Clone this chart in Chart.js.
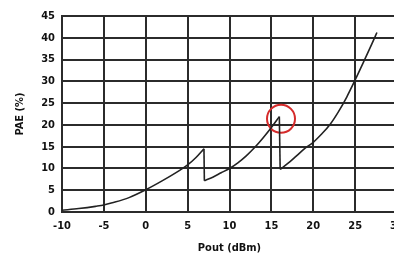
<!DOCTYPE html>
<html>
<head>
<meta charset="utf-8">
<script src="https://cdn.jsdelivr.net/npm/chart.js@4.4.0/dist/chart.umd.min.js"></script>
<style>
  html, body { margin: 0; padding: 0; background: #fff; overflow: hidden; }
  #wrap { width: 420px; height: 258px; }
</style>
</head>
<body>
<div id="wrap"><canvas id="paeChart" width="420" height="258"></canvas></div>
<script>
// Pout (dBm) vs PAE (%)
const poutDbm = [-10, -8, -6, -5, -4, -2, 0, 2, 4, 5, 6, 6.95,
                 7.0, 8, 9, 10, 11, 12, 13, 14, 15, 15.95,
                 16.05, 17, 18, 19, 20, 21, 22, 23, 24, 25, 26, 27, 27.6];
const paePct = [0.4, 0.8, 1.3, 1.6, 2.1, 3.3, 5.1, 7.2, 9.5, 10.8, 12.5, 14.5,
                7.2, 8.0, 9.0, 10.0, 11.3, 12.9, 14.8, 17.0, 19.4, 21.9,
                9.8, 11.2, 12.9, 14.6, 16.0, 17.9, 20.1, 23.0, 26.4, 30.3, 34.4, 38.6, 41.2];
// highlighted peak
const markerPout = [16.15];
const markerPae = [21.4];

const xTicks = [-10, -5, 0, 5, 10, 15, 20, 25, 30];
const yTicks = [0, 5, 10, 15, 20, 25, 30, 35, 40, 45];

const font = { family: "'DejaVu Sans Condensed', 'DejaVu Sans', sans-serif", weight: 'bold', size: 11 };
const gridColor = '#2b2b2b';
const lineColor = '#222';

// split the curve where PAE drops: smooth rising pieces plus straight drops
const points = poutDbm.map((x, i) => ({ x: x, y: paePct[i] }));
const pieces = [[points[0]]];
const drops = [];
for (let i = 1; i < points.length; i++) {
    if (points[i].y < points[i - 1].y) {
        drops.push([points[i - 1], points[i]]);
        pieces.push([points[i]]);
    } else {
        pieces[pieces.length - 1].push(points[i]);
    }
}

const datasets = [];
pieces.forEach(p => datasets.push({
    data: p, showLine: true, borderColor: lineColor, borderWidth: 1.6,
    pointRadius: 0, cubicInterpolationMode: 'monotone'
}));
drops.forEach(p => datasets.push({
    data: p, showLine: true, borderColor: lineColor, borderWidth: 1.6, pointRadius: 0
}));
datasets.push({
    data: markerPout.map((x, i) => ({ x: x, y: markerPae[i] })),
    showLine: false,
    pointRadius: 14,
    pointBorderWidth: 2,
    pointBorderColor: '#d52b2b',
    pointBackgroundColor: 'rgba(0,0,0,0)'
});

new Chart(document.getElementById('paeChart').getContext('2d'), {
    type: 'scatter',
    data: { datasets: datasets },
    options: {
        responsive: false,
        animation: false,
        layout: { padding: { top: 13, right: 23, left: 0, bottom: 0 } },
        plugins: { legend: { display: false }, tooltip: { enabled: false } },
        scales: {
            x: {
                type: 'linear',
                min: -10,
                max: 30,
                afterBuildTicks: s => { s.ticks = xTicks.map(v => ({ value: v })); },
                afterFit: s => { s.height = 46; },
                grid: { color: gridColor, lineWidth: 2, drawTicks: false },
                border: { color: gridColor, width: 2 },
                ticks: { color: '#111', font: font, padding: 8, maxRotation: 0 },
                title: { display: true, text: 'Pout (dBm)', color: '#111', font: font, padding: { top: 0, bottom: 3 } }
            },
            y: {
                min: 0,
                max: 45,
                afterBuildTicks: s => { s.ticks = yTicks.map(v => ({ value: v })); },
                afterFit: s => { s.width = 62; },
                grid: { color: gridColor, lineWidth: 2, drawTicks: false },
                border: { color: gridColor, width: 2 },
                ticks: { color: '#111', font: font, padding: 7 },
                title: { display: true, text: 'PAE (%)', color: '#111', font: font, padding: { top: 14, bottom: 0 } }
            }
        }
    }
});
</script>
</body>
</html>
